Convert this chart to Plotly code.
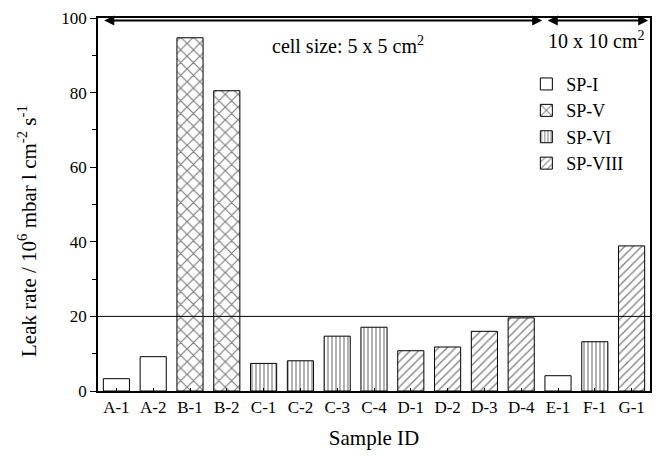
import plotly.graph_objects as go

samples = ["A-1", "A-2", "B-1", "B-2", "C-1", "C-2", "C-3", "C-4",
           "D-1", "D-2", "D-3", "D-4", "E-1", "F-1", "G-1"]
leak = [3.3, 9.2, 94.7, 80.5, 7.4, 8.1, 14.7, 17.1,
        10.8, 11.8, 16.0, 19.6, 4.1, 13.2, 38.9]
series = ["SP-I", "SP-I", "SP-V", "SP-V", "SP-VI", "SP-VI", "SP-VI", "SP-VI",
          "SP-VIII", "SP-VIII", "SP-VIII", "SP-VIII", "SP-I", "SP-VI", "SP-VIII"]
series_order = ["SP-I", "SP-V", "SP-VI", "SP-VIII"]
patterns = {"SP-I": "", "SP-V": "x", "SP-VI": "|", "SP-VIII": "/"}
pat_size = {"SP-I": 8, "SP-V": 9, "SP-VI": 4, "SP-VIII": 6}
pat_sol = {"SP-I": 0.2, "SP-V": 0.25, "SP-VI": 0.3, "SP-VIII": 0.22}
limit_value = 20

FONT = "Liberation Serif"

fig = go.Figure()
for s in series_order:
    xs = [samples[i] for i in range(len(samples)) if series[i] == s]
    ys = [leak[i] for i in range(len(samples)) if series[i] == s]
    fig.add_trace(go.Bar(
        x=xs, y=ys, name=s,
        marker=dict(color="white",
                    line=dict(color="black", width=1),
                    pattern=dict(shape=patterns[s], fgcolor="black", bgcolor="white",
                                 size=pat_size[s], solidity=pat_sol[s])),
    ))

fig.add_shape(type="line", xref="paper", x0=0, x1=1, yref="y",
              y0=limit_value, y1=limit_value, line=dict(color="black", width=1),
              layer="above")

# arrows indicating cell sizes
arrow_y = 99.3
for (x0, x1) in [(-0.37, 11.57), (11.68, 14.45)]:
    fig.add_annotation(x=x1, y=arrow_y, ax=x0, ay=arrow_y, xref="x", yref="y",
                       axref="x", ayref="y", showarrow=True, arrowhead=2,
                       arrowside="end+start", arrowsize=1, arrowwidth=2,
                       arrowcolor="black", text="")
fig.add_annotation(x=6.3, y=92.7, xref="x", yref="y", showarrow=False,
                   text="cell size: 5 x 5 cm<sup>2</sup>",
                   font=dict(family=FONT, size=20, color="black"))
fig.add_annotation(x=13.03, y=94.0, xref="x", yref="y", showarrow=False,
                   text="10 x 10 cm<sup>2</sup>",
                   font=dict(family=FONT, size=20, color="black"))

# y axis title
fig.add_annotation(x=-0.128, y=0.43, xref="paper", yref="paper", showarrow=False,
                   textangle=-90, xanchor="center", yanchor="middle",
                   text="Leak rate / 10<sup>6</sup> mbar l cm<sup>-2</sup> s<sup>-1</sup>",
                   font=dict(family=FONT, size=21, color="black"))

fig.update_layout(
    width=655, height=450,
    margin=dict(l=90, r=13, t=10, b=67),
    plot_bgcolor="white", paper_bgcolor="white",
    font=dict(family=FONT, size=18, color="black"),
    bargap=0.29,
    showlegend=True,
    legend=dict(x=0.776, y=0.872, xanchor="left", yanchor="top",
                font=dict(family=FONT, size=18, color="black"),
                bgcolor="rgba(0,0,0,0)", tracegroupgap=0, itemwidth=30),
    xaxis=dict(title=dict(text="Sample ID", font=dict(size=21), standoff=14),
               showline=True, linecolor="black", linewidth=1.5, mirror=True,
               ticks="inside", ticklen=3, tickcolor="black",
               tickfont=dict(size=17), range=[-0.5, 14.5], automargin=False,
               categoryorder="array", categoryarray=samples),
    yaxis=dict(range=[0, 100], dtick=20, showline=True, linecolor="black",
               linewidth=1.5, mirror=True, ticks="outside", ticklen=6,
               tickcolor="black", showgrid=False, zeroline=False, automargin=False,
               tickfont=dict(size=17), ticklabeloverflow="allow",
               minor=dict(dtick=10, ticks="outside", ticklen=4, tickcolor="black")),
)

fig.write_html("out.html")
